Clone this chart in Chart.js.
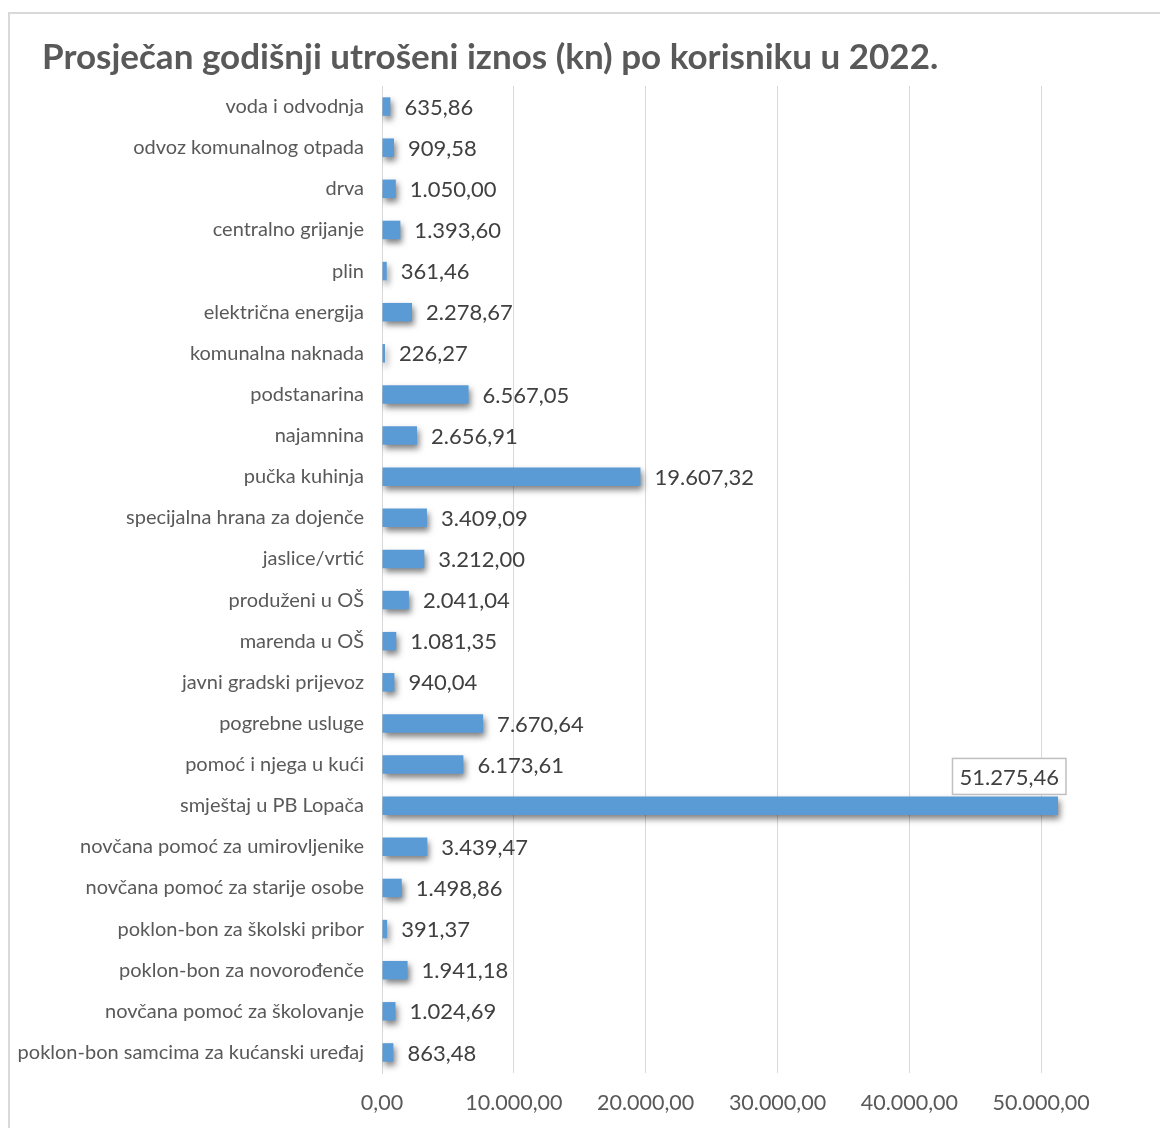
<!DOCTYPE html>
<html>
<head>
<meta charset="utf-8">
<script src="https://cdn.jsdelivr.net/npm/chart.js@4"></script>
<style>
  html, body { margin: 0; padding: 0; overflow: hidden; background: #fff; }
  #wrap { position: relative; width: 1160px; height: 1128px; overflow: hidden; }
  #frame { position: absolute; left: 8px; top: 12px; width: 1300px; height: 1300px; border: 2px solid #d9d9d9; box-sizing: border-box; }
  #chart { position: absolute; left: 0; top: 0; }
</style>
</head>
<body>
<div id="wrap">
  <div id="frame"></div>
  <canvas id="chart" width="1300" height="1128"></canvas>
</div>
<script>
const categories = [
  'voda i odvodnja',
  'odvoz komunalnog otpada',
  'drva',
  'centralno grijanje',
  'plin',
  'električna energija',
  'komunalna naknada',
  'podstanarina',
  'najamnina',
  'pučka kuhinja',
  'specijalna hrana za dojenče',
  'jaslice/vrtić',
  'produženi u OŠ',
  'marenda u OŠ',
  'javni gradski prijevoz',
  'pogrebne usluge',
  'pomoć i njega u kući',
  'smještaj u PB Lopača',
  'novčana pomoć za umirovljenike',
  'novčana pomoć za starije osobe',
  'poklon-bon za školski pribor',
  'poklon-bon za novorođenče',
  'novčana pomoć za školovanje',
  'poklon-bon samcima za kućanski uređaj'
];
const amounts = [
  635.86, 909.58, 1050.00, 1393.60, 361.46, 2278.67, 226.27, 6567.05,
  2656.91, 19607.32, 3409.09, 3212.00, 2041.04, 1081.35, 940.04, 7670.64,
  6173.61, 51275.46, 3439.47, 1498.86, 391.37, 1941.18, 1024.69, 863.48
];
const xTicks = [0, 10000, 20000, 30000, 40000, 50000];

const fmt = new Intl.NumberFormat('de-DE', { minimumFractionDigits: 2, maximumFractionDigits: 2 });
const fontFam = 'Lato, "Open Sans", sans-serif';

// gradient fill for bars
function barFill(c) {
  const chart = c.chart;
  if (!chart.chartArea) return '#5b9bd5';
  const el = c.element;
  if (!el || el.y === undefined) return '#5b9bd5';
  const h = el.height || 18;
  const g = chart.ctx.createLinearGradient(0, el.y - h / 2, 0, el.y + h / 2);
  g.addColorStop(0, '#6aa6e0');
  g.addColorStop(0.5, '#5b9bd5');
  g.addColorStop(1, '#3f7fc0');
  return g;
}

const shadowPlugin = {
  id: 'barShadow',
  beforeDatasetDraw(chart) {
    const ctx = chart.ctx;
    ctx.save();
    ctx.shadowColor = 'rgba(0,0,0,0.5)';
    ctx.shadowBlur = 6;
    ctx.shadowOffsetX = 2;
    ctx.shadowOffsetY = 4;
  },
  afterDatasetDraw(chart) {
    chart.ctx.restore();
  }
};

// title sits further right than the category labels
const titleShift = {
  id: 'titleShift',
  afterLayout(chart) {
    if (chart.titleBlock) chart.titleBlock.left = 42;
  }
};

const valueLabels = {
  id: 'valueLabels',
  afterDatasetsDraw(chart) {
    const ctx = chart.ctx;
    const meta = chart.getDatasetMeta(0);
    ctx.save();
    ctx.font = '22px ' + fontFam;
    ctx.fillStyle = '#404040';
    ctx.textBaseline = 'middle';
    meta.data.forEach((bar, i) => {
      const txt = fmt.format(amounts[i]);
      const w = ctx.measureText(txt).width;
      if (bar.x + 14 + w > 1150) {
        // boxed label above the bar end
        const bw = w + 14, bh = 36;
        const bx = bar.x + 8 - bw;
        const by = bar.y - bar.height / 2 - bh - 2;
        ctx.fillStyle = '#ffffff';
        ctx.fillRect(bx, by, bw, bh);
        ctx.strokeStyle = '#bfbfbf';
        ctx.lineWidth = 1.5;
        ctx.strokeRect(bx, by, bw, bh);
        ctx.fillStyle = '#404040';
        ctx.textAlign = 'center';
        ctx.fillText(txt, bx + bw / 2, by + bh / 2 + 1);
      } else {
        ctx.textAlign = 'left';
        ctx.fillText(txt, bar.x + 14, bar.y + 1);
      }
    });
    ctx.restore();
  }
};

new Chart(document.getElementById('chart'), {
  type: 'bar',
  data: {
    labels: categories,
    datasets: [{
      data: amounts,
      backgroundColor: barFill,
      borderWidth: 0,
      barPercentage: 0.9,
      categoryPercentage: 0.5
    }]
  },
  options: {
    indexAxis: 'y',
    responsive: false,
    animation: false,
    events: [],
    layout: { padding: { left: 10, right: 127, top: 37, bottom: 0 } },
    plugins: {
      legend: { display: false },
      tooltip: { enabled: false },
      title: {
        display: true,
        text: 'Prosječan godišnji utrošeni iznos (kn) po korisniku u 2022.',
        align: 'start',
        color: '#595959',
        font: { family: fontFam, size: 35, weight: 'bold' },
        padding: { top: 0, bottom: 7 }
      }
    },
    scales: {
      x: {
        min: 0,
        max: 60000,
        afterBuildTicks(scale) {
          scale.ticks = xTicks.concat([60000]).map(v => ({ value: v }));
        },
        afterFit(scale) { scale.height = 55; },
        ticks: {
          color: '#595959',
          font: { family: fontFam, size: 21.5 },
          padding: 17,
          callback: v => (v > 50000 ? '' : fmt.format(v))
        },
        grid: { color: '#d9d9d9', lineWidth: 1, drawTicks: false },
        border: { display: false }
      },
      y: {
        afterFit(scale) { scale.width = 372; },
        ticks: {
          color: '#595959',
          font: { family: fontFam, size: 20 },
          padding: 18
        },
        grid: { display: false, drawTicks: false },
        border: { display: true, color: '#d9d9d9', width: 1 }
      }
    }
  },
  plugins: [shadowPlugin, titleShift, valueLabels]
});
</script>
</body>
</html>
